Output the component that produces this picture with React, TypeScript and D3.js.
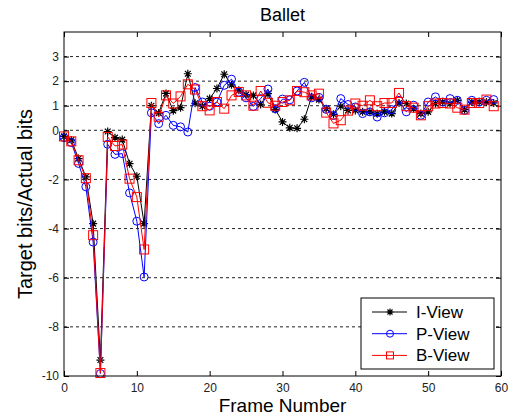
import React, { useRef, useEffect } from 'react';
import * as d3 from 'd3';

// frame numbers 0..59
const frames = d3.range(0, 60);

const iView = [
  -0.25, -0.4, -1.15, -1.9, -3.8, -9.35, -0.05, -0.3, -0.38, -1.36,
  -1.87, -3.8, 1.0, 0.7, 1.5, 0.8, 0.92, 2.3, 1.1, 0.98,
  1.29, 1.7, 2.28, 1.85, 1.63, 1.45, 1.42, 1.05, 1.49, 0.85,
  0.34, 0.1, 0.08, 0.45, 1.36, 1.25, 0.88, 0.65, 0.98, 0.81,
  0.81, 0.75, 0.75, 0.68, 0.75, 0.68, 1.11, 1.09, 0.88, 0.68,
  0.75, 1.09, 1.15, 1.09, 1.22, 0.84, 1.15, 1.15, 1.15, 1.11,
];

const pView = [
  -0.3, -0.5, -1.35, -2.3, -4.55, -9.9, -0.57, -0.98, -0.95, -2.55,
  -3.7, -5.97, 0.71, 0.27, 0.61, 0.2, 0.14, -0.07, 1.74, 1.15,
  0.98, 1.15, 1.83, 2.08, 1.55, 1.32, 0.97, 1.29, 1.68, 0.88,
  1.27, 1.24, 1.6, 1.95, 1.32, 1.34, 0.85, 0.6, 1.29, 1.05,
  0.95, 0.68, 0.75, 0.54, 0.71, 0.84, 1.22, 0.75, 1.02, 0.61,
  1.15, 1.36, 1.15, 1.29, 1.22, 0.81, 1.22, 1.15, 1.22, 1.25,
];

const bView = [
  -0.25, -0.45, -1.22, -1.95, -4.27, -9.88, -0.27, -0.64, -0.58, -1.97,
  -2.72, -4.85, 1.11, 0.55, 1.42, 1.09, 1.38, 1.87, 1.66, 0.98,
  0.81, 1.15, 0.88, 1.42, 1.56, 1.42, 1.0, 1.6, 1.12, 1.0,
  1.15, 1.22, 1.6, 1.55, 1.42, 1.49, 0.72, 0.28, 0.41, 0.8,
  1.09, 1.0, 1.22, 0.98, 1.11, 1.11, 1.52, 0.98, 0.92, 0.61,
  0.98, 1.09, 1.11, 1.09, 0.92, 0.84, 1.11, 1.11, 1.25, 0.98,
];

const xTicks = [0, 10, 20, 30, 40, 50, 60];
const yTicks = [3, 2, 1, 0, -2, -4, -6, -8, -10];

const seriesNames = ['I-View', 'P-View', 'B-View'];
const seriesColors = ['#000000', '#0000ff', '#ff0000'];
const seriesMarkers = ['star', 'circle', 'square'];

const FONT = '"Liberation Sans", Arial, sans-serif';

const drawMarker = (g, type, color, cx, cy, s) => {
  if (type === 'star') {
    const d = s * 0.72;
    g.append('path')
      .attr('d', `M${cx - s},${cy}L${cx + s},${cy}M${cx},${cy - s}L${cx},${cy + s}` +
        `M${cx - d},${cy - d}L${cx + d},${cy + d}M${cx - d},${cy + d}L${cx + d},${cy - d}`)
      .attr('stroke', color)
      .attr('stroke-width', 1.2)
      .attr('fill', 'none');
  } else if (type === 'circle') {
    g.append('circle')
      .attr('cx', cx).attr('cy', cy).attr('r', s)
      .attr('stroke', color).attr('fill', 'none').attr('stroke-width', 1);
  } else {
    g.append('rect')
      .attr('x', cx - s).attr('y', cy - s)
      .attr('width', 2 * s).attr('height', 2 * s)
      .attr('stroke', color).attr('fill', 'none').attr('stroke-width', 1);
  }
};

const App = () => {
  const ref = useRef(null);

  useEffect(() => {
    const svg = d3.select(ref.current);
    svg.selectAll('*').remove();

    const left = 64, right = 501, top = 32, bottom = 376;
    const x = d3.scaleLinear().domain([0, 60]).range([left, right]);
    const y = d3.scaleLinear().domain([-10, 4]).range([bottom, top]);

    svg.append('rect').attr('width', 509).attr('height', 418).attr('fill', '#fff');

    // dashed grid lines
    svg.append('g')
      .selectAll('line')
      .data(yTicks.filter(v => v > -10))
      .enter()
      .append('line')
      .attr('x1', left).attr('x2', right)
      .attr('y1', d => y(d)).attr('y2', d => y(d))
      .attr('stroke', '#222')
      .attr('stroke-width', 1)
      .attr('stroke-dasharray', '3,3');

    // axes (plain hyphen minus, like the original)
    const fmt = d => String(d);
    const styleAxis = g => {
      g.select('.domain').remove();
      g.selectAll('line').attr('stroke', '#000');
      g.selectAll('text').attr('font-family', FONT).attr('font-size', 12).attr('fill', '#222');
    };
    svg.append('g')
      .attr('transform', `translate(0,${bottom})`)
      .call(d3.axisBottom(x).tickValues(xTicks).tickFormat(fmt).tickSizeInner(-5).tickSizeOuter(0).tickPadding(7))
      .call(styleAxis);
    svg.append('g')
      .attr('transform', `translate(0,${top})`)
      .call(d3.axisTop(x).tickValues(xTicks).tickSizeInner(-5).tickSizeOuter(0).tickFormat(() => ''))
      .call(styleAxis);
    svg.append('g')
      .attr('transform', `translate(${left},0)`)
      .call(d3.axisLeft(y).tickValues(yTicks).tickFormat(fmt).tickSizeInner(-5).tickSizeOuter(0).tickPadding(5))
      .call(styleAxis);
    svg.append('g')
      .attr('transform', `translate(${right},0)`)
      .call(d3.axisRight(y).tickValues(yTicks).tickSizeInner(-5).tickSizeOuter(0).tickFormat(() => ''))
      .call(styleAxis);

    // series
    const allSeries = [iView, pView, bView];
    const line = d3.line().x(d => x(d[0])).y(d => y(d[1]));
    allSeries.forEach((vals, i) => {
      const pts = frames.map((f, j) => [f, vals[j]]);
      const g = svg.append('g');
      g.append('path')
        .attr('d', line(pts))
        .attr('fill', 'none')
        .attr('stroke', seriesColors[i])
        .attr('stroke-width', 1);
      const size = seriesMarkers[i] === 'square' ? 4.5 : 4;
      pts.forEach(p => drawMarker(g, seriesMarkers[i], seriesColors[i], x(p[0]), y(p[1]), size));
    });

    // frame box
    svg.append('rect')
      .attr('x', left).attr('y', top)
      .attr('width', right - left).attr('height', bottom - top)
      .attr('fill', 'none').attr('stroke', '#000').attr('stroke-width', 1);

    // legend
    const lg = svg.append('g');
    lg.append('rect')
      .attr('x', 361).attr('y', 298).attr('width', 133).attr('height', 71)
      .attr('fill', '#fff').attr('stroke', '#000').attr('stroke-width', 1);
    seriesNames.forEach((name, i) => {
      const ly = 312 + i * 21.7;
      lg.append('line')
        .attr('x1', 372).attr('x2', 407).attr('y1', ly).attr('y2', ly)
        .attr('stroke', seriesColors[i]).attr('stroke-width', 1);
      drawMarker(lg, seriesMarkers[i], seriesColors[i], 390, ly, 3.5);
      lg.append('text')
        .attr('x', 416).attr('y', ly + 6)
        .attr('font-family', FONT).attr('font-size', 17)
        .text(name);
    });

    // titles
    svg.append('text')
      .attr('x', (left + right) / 2).attr('y', 21)
      .attr('text-anchor', 'middle')
      .attr('font-family', FONT).attr('font-size', 18)
      .text('Ballet');
    svg.append('text')
      .attr('x', (left + right) / 2).attr('y', 412)
      .attr('text-anchor', 'middle')
      .attr('font-family', FONT).attr('font-size', 19)
      .text('Frame Number');
    svg.append('text')
      .attr('transform', `translate(32,${(top + bottom) / 2}) rotate(-90)`)
      .attr('text-anchor', 'middle')
      .attr('font-family', FONT).attr('font-size', 20)
      .text('Target bits/Actual bits');
  }, []);

  return (
    <svg
      ref={ref}
      width={509}
      height={418}
      style={{ position: 'absolute', left: 0, top: 0, display: 'block' }}
    />
  );
};

export default App;
